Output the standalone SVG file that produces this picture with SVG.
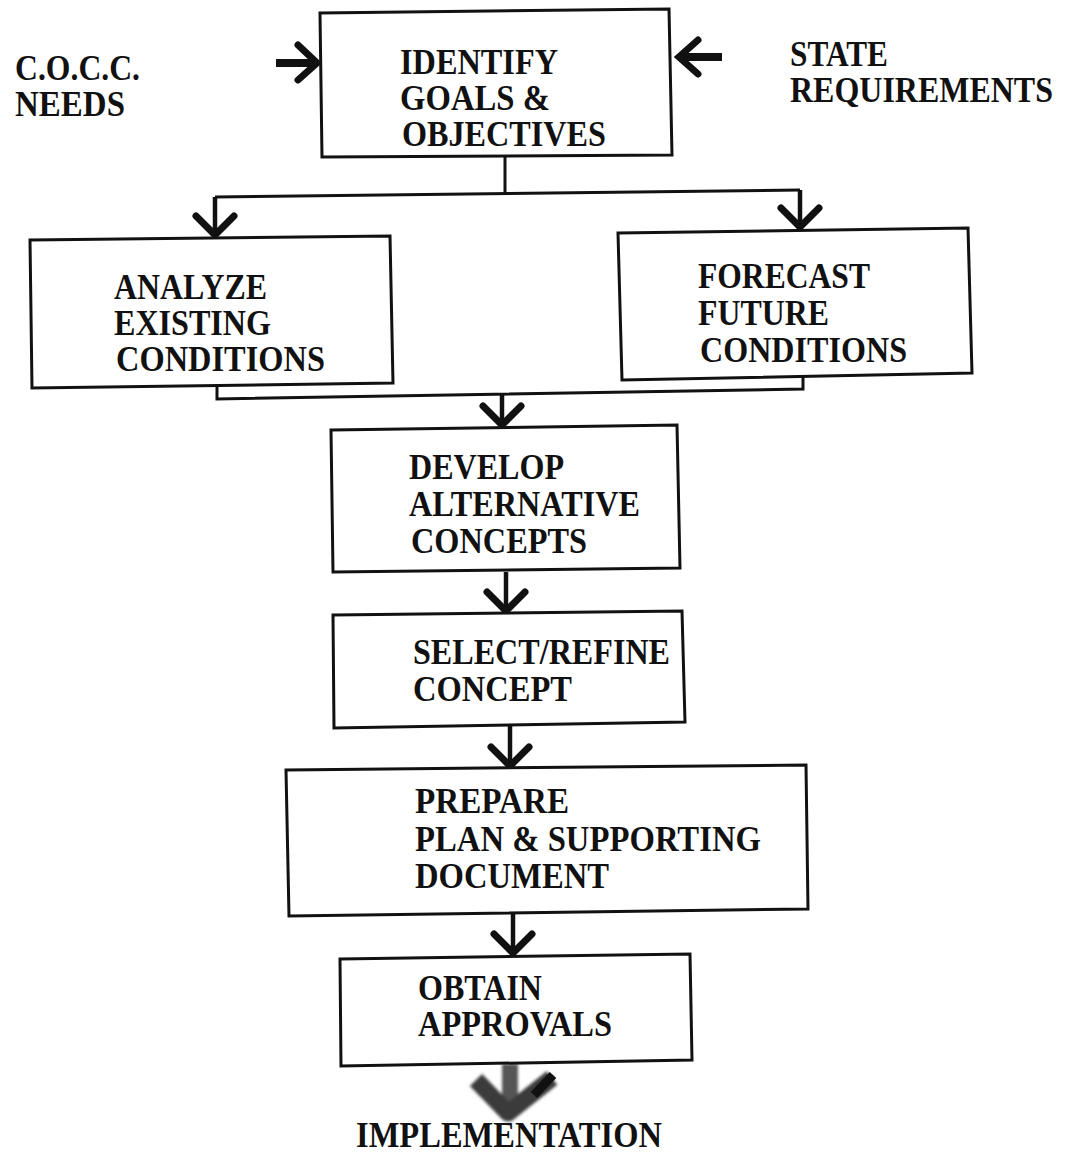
<svg xmlns="http://www.w3.org/2000/svg" width="1067" height="1153" viewBox="0 0 1067 1153">
<defs>
<style>
.box{fill:#fff;stroke:#111;stroke-width:3;stroke-linejoin:miter}
.t{font-family:"Liberation Serif","Times New Roman",serif;font-weight:bold;font-size:32px;fill:#111}
.ln{fill:none;stroke:#111;stroke-width:3}
.stem{fill:none;stroke:#111;stroke-width:4.5}
.head{fill:none;stroke:#111;stroke-width:7;stroke-linecap:round;stroke-linejoin:miter}
</style>
<filter id="soft" x="-20%" y="-20%" width="140%" height="140%"><feGaussianBlur stdDeviation="1.6"/></filter>
</defs>
<rect width="1067" height="1153" fill="#fff"/>

<g id="connectors">
<path class="stem" d="M276,63 H316" style="stroke-width:8"/>
<path class="head" d="M298,45 L317,63 L298,80"/>
<path class="stem" d="M722,57 H680" style="stroke-width:8"/>
<path class="head" d="M698,40 L679,57 L698,74"/>
<path class="ln" d="M505,157 V193"/>
<path class="ln" d="M215,197 L800,190"/>
<path class="stem" d="M215,197 V235"/>
<path class="head" d="M196,216 L215,235 L234,216"/>
<path class="stem" d="M800,190 V227"/>
<path class="head" d="M781,208 L800,227 L819,208"/>
<path class="ln" d="M217,386 V399 L803,389 V376"/>
<path class="stem" d="M502,395 V425"/>
<path class="head" d="M483,406 L502,425 L521,406"/>
<path class="stem" d="M506,572 V611"/>
<path class="head" d="M487,592 L506,611 L525,592"/>
<path class="stem" d="M510,726 V766"/>
<path class="head" d="M491,747 L510,766 L529,747"/>
<path class="stem" d="M513,913 V953"/>
<path class="head" d="M494,934 L513,953 L532,934"/>
<g filter="url(#soft)">
<rect x="502" y="1064" width="16" height="38" fill="#555"/>
<path d="M476,1080 L508,1113 L552,1078" fill="none" stroke="#3a3a3a" stroke-width="17" stroke-linejoin="round"/>
</g>
<path d="M534,1095 L553,1075" stroke="#111" stroke-width="9" fill="none"/>
</g>

<g id="cocc-needs">
<text class="t" transform="translate(15,80) scale(1,1.12)" textLength="125" lengthAdjust="spacingAndGlyphs">C.O.C.C.</text>
<text class="t" transform="translate(15,116) scale(1,1.12)" textLength="110" lengthAdjust="spacingAndGlyphs">NEEDS</text>
</g>
<g id="state-requirements">
<text class="t" transform="translate(790,66) scale(1,1.12)" textLength="98" lengthAdjust="spacingAndGlyphs">STATE</text>
<text class="t" transform="translate(790,102) scale(1,1.12)" textLength="263" lengthAdjust="spacingAndGlyphs">REQUIREMENTS</text>
</g>

<g id="identify">
<path class="box" d="M320,13 L669,9 L672,155 L322,157 Z"/>
<text class="t" transform="translate(400,74) scale(1,1.12)" textLength="158" lengthAdjust="spacingAndGlyphs">IDENTIFY</text>
<text class="t" transform="translate(400,110) scale(1,1.12)" textLength="150" lengthAdjust="spacingAndGlyphs">GOALS &amp;</text>
<text class="t" transform="translate(402,146) scale(1,1.12)" textLength="204" lengthAdjust="spacingAndGlyphs">OBJECTIVES</text>
</g>

<g id="analyze">
<path class="box" d="M30,240 L390,236 L393,383 L32,388 Z"/>
<text class="t" transform="translate(114,299) scale(1,1.12)" textLength="153" lengthAdjust="spacingAndGlyphs">ANALYZE</text>
<text class="t" transform="translate(114,335) scale(1,1.12)" textLength="157" lengthAdjust="spacingAndGlyphs">EXISTING</text>
<text class="t" transform="translate(116,371) scale(1,1.12)" textLength="209" lengthAdjust="spacingAndGlyphs">CONDITIONS</text>
</g>

<g id="forecast">
<path class="box" d="M618,233 L968,228 L972,373 L622,380 Z"/>
<text class="t" transform="translate(698,288) scale(1,1.12)" textLength="172" lengthAdjust="spacingAndGlyphs">FORECAST</text>
<text class="t" transform="translate(698,325) scale(1,1.12)" textLength="131" lengthAdjust="spacingAndGlyphs">FUTURE</text>
<text class="t" transform="translate(700,362) scale(1,1.12)" textLength="207" lengthAdjust="spacingAndGlyphs">CONDITIONS</text>
</g>

<g id="develop">
<path class="box" d="M331,430 L677,425 L680,568 L333,572 Z"/>
<text class="t" transform="translate(409,479) scale(1,1.12)" textLength="155" lengthAdjust="spacingAndGlyphs">DEVELOP</text>
<text class="t" transform="translate(409,516) scale(1,1.12)" textLength="231" lengthAdjust="spacingAndGlyphs">ALTERNATIVE</text>
<text class="t" transform="translate(411,553) scale(1,1.12)" textLength="176" lengthAdjust="spacingAndGlyphs">CONCEPTS</text>
</g>

<g id="select">
<path class="box" d="M333,615 L682,611 L685,722 L334,728 Z"/>
<text class="t" transform="translate(413,664) scale(1,1.12)" textLength="257" lengthAdjust="spacingAndGlyphs">SELECT/REFINE</text>
<text class="t" transform="translate(413,701) scale(1,1.12)" textLength="159" lengthAdjust="spacingAndGlyphs">CONCEPT</text>
</g>

<g id="prepare">
<path class="box" d="M286,770 L806,765 L808,909 L289,916 Z"/>
<text class="t" transform="translate(415,813) scale(1,1.12)" textLength="154" lengthAdjust="spacingAndGlyphs">PREPARE</text>
<text class="t" transform="translate(415,851) scale(1,1.12)" textLength="346" lengthAdjust="spacingAndGlyphs">PLAN &amp; SUPPORTING</text>
<text class="t" transform="translate(415,888) scale(1,1.12)" textLength="194" lengthAdjust="spacingAndGlyphs">DOCUMENT</text>
</g>

<g id="obtain">
<path class="box" d="M340,959 L690,954 L692,1060 L341,1066 Z"/>
<text class="t" transform="translate(418,1000) scale(1,1.12)" textLength="124" lengthAdjust="spacingAndGlyphs">OBTAIN</text>
<text class="t" transform="translate(418,1036) scale(1,1.12)" textLength="194" lengthAdjust="spacingAndGlyphs">APPROVALS</text>
</g>

<g id="implementation">
<text class="t" transform="translate(356,1147) scale(1,1.12)" textLength="306" lengthAdjust="spacingAndGlyphs">IMPLEMENTATION</text>
</g>
</svg>
